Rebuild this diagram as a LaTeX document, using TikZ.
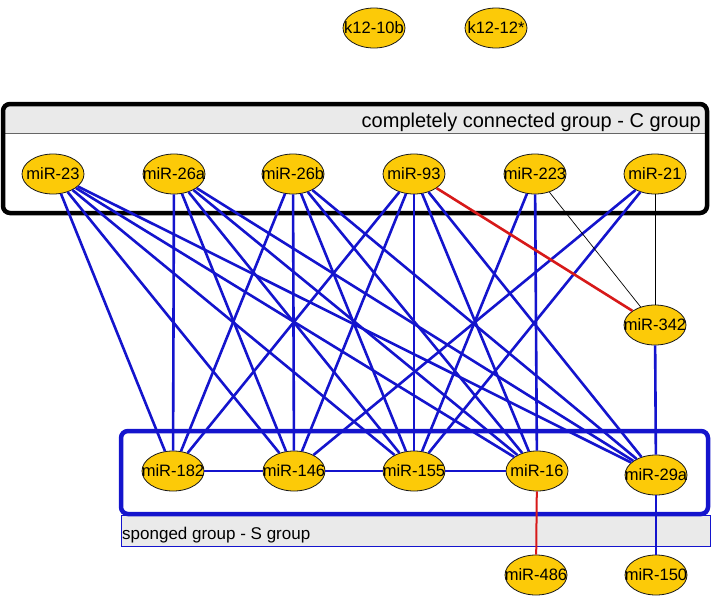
\documentclass[tikz,border=0pt]{standalone}
\usepackage{fontspec}
\setmainfont{Liberation Sans}
\usetikzlibrary{shapes.geometric}

\definecolor{nodegold}{RGB}{252,202,8}
\definecolor{edgeblue}{RGB}{20,20,205}
\definecolor{edgered}{RGB}{215,25,25}
\definecolor{bargrey}{RGB}{234,234,234}

\newcommand{\mirtxt}[1]{\makebox[0pt]{#1}}

\begin{document}
\begin{tikzpicture}[x=1pt,y=-1pt]

\tikzset{mirnode/.style={ellipse,draw=black!90,fill=nodegold,line width=0.8pt,minimum width=62pt,minimum height=40pt,inner sep=0pt,font=\fontsize{16.5}{16.5}\selectfont},
blueedge/.style={draw=edgeblue,line width=2.6pt},
thinblue/.style={draw=edgeblue,line width=2pt},
rededge/.style={draw=edgered,line width=2.6pt},
thinred/.style={draw=edgered,line width=2pt},
blackedge/.style={draw=black,line width=0.7pt},
grouplabel/.style={inner sep=0pt}}

\useasboundingbox (0,0) rectangle (718,598);

% C group box
\fill[bargrey] (3,104) rectangle (707,133);
\draw[black!60,line width=0.7pt] (3,133) -- (707,133);
\draw[black,line width=4.5pt,rounded corners=7pt] (3,104) rectangle (707,213);
\node[grouplabel,anchor=base east,font=\fontsize{20}{20}\selectfont] (clab) at (701,127) {completely connected group - C group};

% S group box
\filldraw[fill=bargrey,draw=edgeblue,line width=0.8pt] (121,515) rectangle (710,546);
\draw[edgeblue,line width=4.5pt,rounded corners=7pt] (121,431) rectangle (708,514);
\node[grouplabel,anchor=base west,font=\fontsize{17}{17}\selectfont] (slab) at (122,539) {sponged group - S group};

% Unconnected nodes
\node[mirnode] (k10b) at (374,28) {\mirtxt{k12-10b}};
\node[mirnode] (k12) at (496,28) {\mirtxt{k12-12*}};

% C group nodes
\foreach \u/\lab/\x in {m23/miR-23/53, m26a/miR-26a/174, m26b/miR-26b/293, m93/miR-93/414, m223/miR-223/535, m21/miR-21/655}
	\node[mirnode] (\u) at (\x,174) {\mirtxt{\lab}};

% S group nodes
\foreach \u/\lab/\x in {m182/miR-182/173, m146/miR-146/294, m155/miR-155/414, m16/miR-16/537}
	\node[mirnode] (\u) at (\x,471) {\mirtxt{\lab}};
\node[mirnode] (m29a) at (656,475) {\mirtxt{miR-29a}};

% Other nodes
\node[mirnode] (m342) at (655,325) {\mirtxt{miR-342}};
\node[mirnode] (m486) at (536,575) {\mirtxt{miR-486}};
\node[mirnode] (m150) at (656,575) {\mirtxt{miR-150}};

%% Edges
\foreach \a in {m23, m26a, m26b, m93}
	\foreach \b in {m182, m146, m155, m16, m29a}
		\draw[blueedge] (\a) -- (\b);
\foreach \a/\b in {m223/m155, m223/m16, m21/m146, m21/m155, m342/m29a}
	\draw[blueedge] (\a) -- (\b);
\foreach \a/\b in {m182/m146, m146/m155, m155/m16, m29a/m150}
	\draw[thinblue] (\a) -- (\b);
\draw[rededge] (m93) -- (m342);
\draw[thinred] (m16) -- (m486);
\foreach \a in {m223, m21} \draw[blackedge] (\a) -- (m342);

\end{tikzpicture}
\end{document}
